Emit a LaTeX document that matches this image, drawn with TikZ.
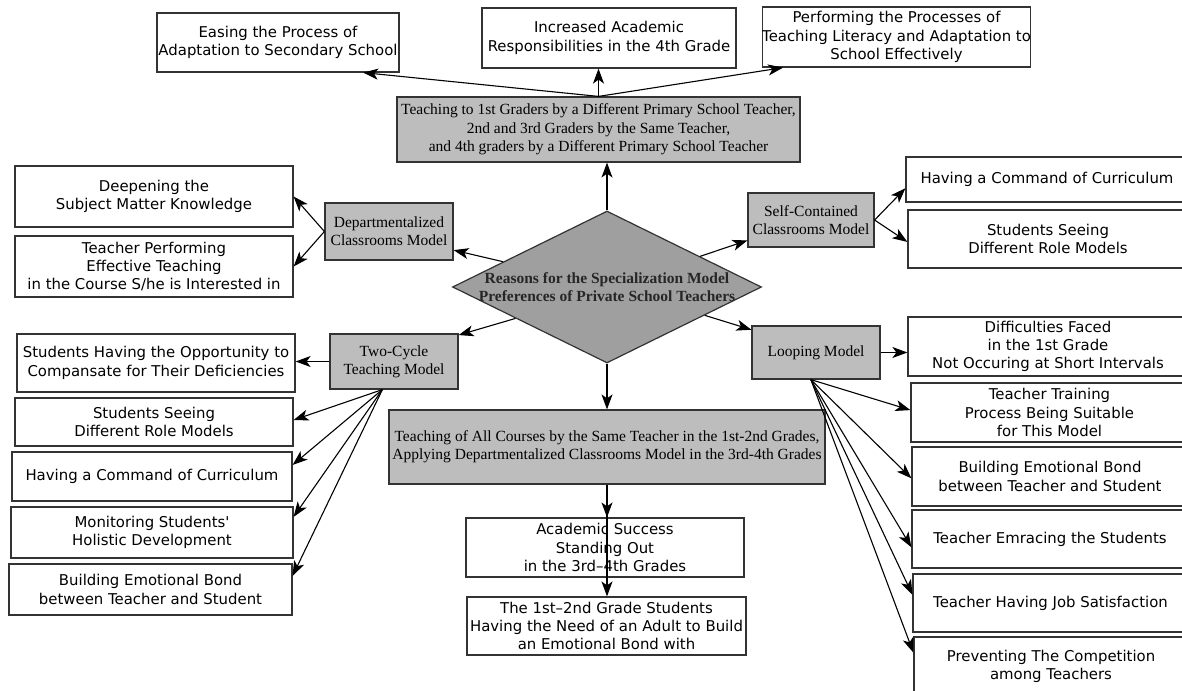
\documentclass[tikz,border=0pt]{standalone}
\usepackage{fontspec}
\setmainfont{Liberation Serif}
\newfontfamily\boxsans{DejaVu Sans}
\usetikzlibrary{shapes.geometric,arrows.meta,calc}
\begin{document}
\begin{tikzpicture}[x=1pt,y=-1pt,
  wbox/.style={draw=black!80, line width=1.2pt, fill=white, inner sep=0pt, align=center,
    font=\boxsans\fontsize{14.9}{18.3}\selectfont},
  gbox/.style={draw=black!80, line width=1.2pt, fill=gray!52, inner sep=0pt, align=center,
    font=\fontsize{15.5}{18.3}\selectfont},
  arr/.style={-{Stealth[length=15pt,width=11pt,inset=4pt]}, line width=1.1pt, black},
]
\useasboundingbox (0,0) rectangle (1182,690);
\clip (0,0) rectangle (1182,690);
\fill[white] (0,0) rectangle (1182,690);

% top row
\node[wbox, minimum width=242pt, minimum height=59pt] (eas) at (278,42.5) {Easing the Process of\\Adaptation to Secondary School};
\node[wbox, minimum width=254pt, minimum height=60pt] (inc) at (609,38) {Increased Academic\\Responsibilities in the 4th Grade};
\node[wbox, minimum width=251pt, minimum height=60pt] (perf) at (896.5,37) {Performing the Processes of\\Teaching Literacy and Adaptation to\\School Effectively};
\node[gbox, minimum width=403pt, minimum height=65pt] (topg) at (598.5,129.5) {Teaching to 1st Graders by a Different Primary School Teacher,\\2nd and 3rd Graders by the Same Teacher,\\and 4th graders by a Different Primary School Teacher};

% departmentalized
\node[wbox, minimum width=278pt, minimum height=61pt] (deep) at (154,196.5) {Deepening the\\Subject Matter Knowledge};
\node[wbox, minimum width=278pt, minimum height=61pt] (tp) at (154,266.5) {Teacher Performing\\Effective Teaching\\in the Course S/he is Interested in};
\node[gbox, minimum width=128pt, minimum height=57pt] (dept) at (389,231.5) {Departmentalized\\Classrooms Model};

% self-contained
\node[gbox, minimum width=126pt, minimum height=54pt] (self) at (811,220) {Self-Contained\\Classrooms Model};
\node[wbox, minimum width=282pt, minimum height=45pt] (cmdR) at (1047,179.5) {Having a Command of Curriculum};
\node[wbox, minimum width=280pt, minimum height=58pt] (seeR) at (1048,239) {Students Seeing\\Different Role Models};

% centre
\node[diamond, draw=black!80, line width=1.2pt, fill=gray!75, inner sep=0pt,
  minimum width=309pt, minimum height=152pt] (dia) at (607,287) {};
\node[font=\bfseries\fontsize{15.5}{18.3}\selectfont, align=center, inner sep=0pt, text=black!85] (diat) at (dia.center)
  {Reasons for the Specialization Model\\Preferences of Private School Teachers};

% two-cycle
\node[gbox, minimum width=128pt, minimum height=55pt] (two) at (394,361.5) {Two-Cycle\\Teaching Model};
\node[wbox, minimum width=278pt, minimum height=58pt] (oppL) at (156,363) {Students Having the Opportunity to\\Compansate for Their Deficiencies};
\node[wbox, minimum width=278pt, minimum height=48pt] (seeL) at (154,422) {Students Seeing\\Different Role Models};
\node[wbox, minimum width=280pt, minimum height=49pt] (cmdL) at (152,476.5) {Having a Command of Curriculum};
\node[wbox, minimum width=282pt, minimum height=51pt] (mon) at (152,532.5) {Monitoring Students'\\Holistic Development};
\node[wbox, minimum width=283pt, minimum height=51pt] (bondL) at (150.5,589.5) {Building Emotional Bond\\between Teacher and Student};

% looping
\node[gbox, minimum width=128pt, minimum height=53pt] (loop) at (816,352.5) {Looping Model};
\node[wbox, minimum width=280pt, minimum height=59pt] (diff) at (1048,346.5) {Difficulties Faced\\in the 1st Grade\\Not Occuring at Short Intervals};
\node[wbox, minimum width=277pt, minimum height=59pt] (train) at (1049.5,412.5) {Teacher Training\\Process Being Suitable\\for This Model};
\node[wbox, minimum width=276pt, minimum height=59pt] (bondR) at (1050,476.5) {Building Emotional Bond\\between Teacher and Student};
\node[wbox, minimum width=276pt, minimum height=58pt] (emr) at (1050,539) {Teacher Emracing the Students};
\node[wbox, minimum width=275pt, minimum height=58pt] (job) at (1050.5,603) {Teacher Having Job Satisfaction};
\node[wbox, minimum width=274pt, minimum height=59pt] (prev) at (1051,666.5) {Preventing The Competition\\among Teachers};

% bottom
\node[gbox, minimum width=436pt, minimum height=74pt] (botg) at (607,447) {Teaching of All Courses by the Same Teacher in the 1st-2nd Grades,\\Applying Departmentalized Classrooms Model in the 3rd-4th Grades};
\node[wbox, minimum width=278pt, minimum height=59pt] (acad) at (605,547.5) {Academic Success\\Standing Out\\in the 3rd\textendash 4th Grades};
\node[wbox, minimum width=279pt, minimum height=58pt] (need) at (606.5,626) {The 1st\textendash 2nd Grade Students\\Having the Need of an Adult to Build\\an Emotional Bond with};

% connectors: top
\draw[arr] (topg.north) -- ($(eas.south west)!0.85!(eas.south east)$);
\draw[arr] (topg.north) -- (topg.north |- inc.south);
\draw[arr] (topg.north) -- ($(perf.south west)!0.08!(perf.south east)$);
\draw[arr] (dia.north) -- (dia.north |- topg.south);

% diamond to models
\draw[arr] ($(dia.west)!0.33!(dia.north)$) -- ($(dept.south east)!0.18!(dept.north east)$);
\draw[arr] ($(dia.west)!0.41!(dia.south)$) -- ($(two.north east)!0.03!(two.south east)$);
\draw[arr] ($(dia.north)!0.6!(dia.east)$) -- ($(self.south west)!0.13!(self.north west)$);
\draw[arr] ($(dia.east)!0.37!(dia.south)$) -- ($(loop.north west)!0.08!(loop.south west)$);
\draw[arr] (dia.south) -- (dia.south |- botg.north);

% departmentalized
\draw[arr] (dept.west) -- (deep.east);
\draw[arr] (dept.west) -- (tp.east);

% self-contained
\draw[arr] (self.east) -- ($(cmdR.south west)!0.31!(cmdR.north west)$);
\draw[arr] (self.east) -- ($(seeR.north west)!0.55!(seeR.south west)$);

% looping
\draw[arr] (loop.east) -- (loop.east -| diff.west);
\coordinate (ls) at ($(loop.south west)!0.46!(loop.south east)$);
\draw[arr] (ls) -- ($(train.north west)!0.46!(train.south west)$);
\draw[arr] (ls) -- ($(bondR.north west)!0.53!(bondR.south west)$);
\draw[arr] (ls) -- ($(emr.north west)!0.64!(emr.south west)$);
\draw[arr] (ls) -- ($(job.north west)!0.36!(job.south west)$);
\draw[arr] (ls) -- ($(prev.north west)!0.27!(prev.south west)$);

% two-cycle
\draw[arr] (two.west) -- (two.west -| oppL.east);
\coordinate (ts) at ($(two.south west)!0.41!(two.south east)$);
\draw[arr] (ts) -- ($(seeL.north east)!0.46!(seeL.south east)$);
\draw[arr] (ts) -- ($(cmdL.north east)!0.27!(cmdL.south east)$);
\draw[arr] (ts) -- ($(mon.north east)!0.2!(mon.south east)$);
\draw[arr] (ts) -- ($(bondL.north east)!0.24!(bondL.south east)$);

% bottom
\draw[arr] (botg.south) -- (botg.south |- acad.north);
\draw[arr] (botg.south) -- (botg.south |- need.north);
\end{tikzpicture}
\end{document}
